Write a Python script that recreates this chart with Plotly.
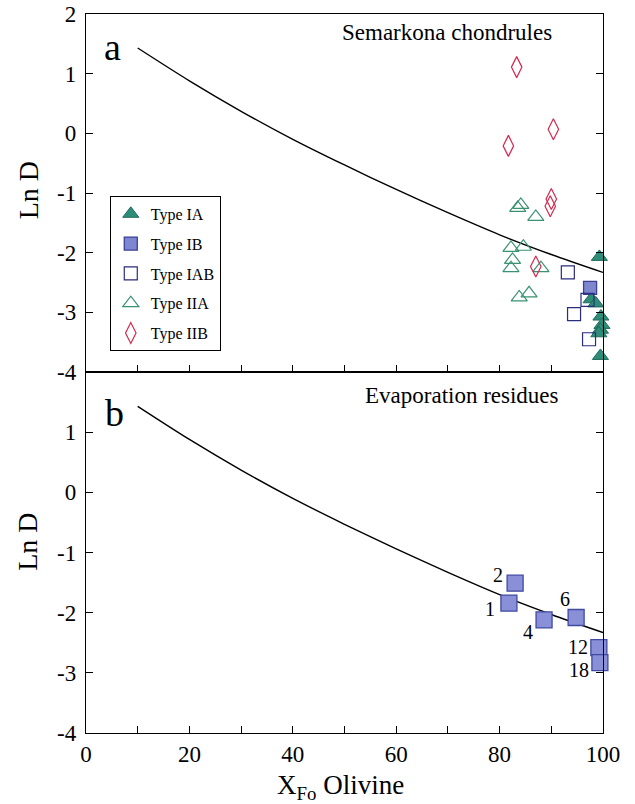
import plotly.graph_objects as go

# ---------------- data ----------------
curve_x = [10, 20, 30, 40, 50, 60, 70, 80, 90, 100]
curve_y = [1.43, 0.88, 0.37, -0.10, -0.53, -0.94, -1.33, -1.70, -2.03, -2.33]

ia_x = [99.3, 97.7, 98.6, 99.6, 99.8, 99.5, 99.2, 99.5]
ia_y = [-2.07, -2.78, -2.85, -3.07, -3.21, -3.29, -3.35, -3.73]

ib_x = [97.5]
ib_y = [-2.59]

iab_x = [93.2, 97.0, 94.4, 97.3]
iab_y = [-2.33, -2.79, -3.03, -3.45]

iia_x = [83.5, 84.1, 87.0, 82.2, 84.6, 82.5, 82.2, 88.0, 83.8, 85.7]
iia_y = [-1.25, -1.20, -1.40, -1.92, -1.90, -2.12, -2.26, -2.26, -2.75, -2.68]

iib_x = [83.3, 81.7, 90.4, 90.0, 89.8, 87.0]
iib_y = [1.11, -0.21, 0.07, -1.10, -1.22, -2.23]

evap_x = [81.8, 83.0, 88.6, 94.8, 99.2, 99.4]
evap_y = [-1.84, -1.51, -2.12, -2.08, -2.58, -2.83]
evap_labels = ["1", "2", "4", "6", "12", "18"]

x_tickvals = [0, 20, 40, 60, 80, 100]
x_ticktext = ["0", "20", "40", "60", "80", "100"]
x_minorvals = [10, 30, 50, 70, 90]
y_tickvals_top = [-4, -3, -2, -1, 0, 1, 2]
y_ticktext_top = ["-4", "-3", "-2", "-1", "0", "1", "2"]
y_tickvals_bottom = [-4, -3, -2, -1, 0, 1]
y_ticktext_bottom = ["-4", "-3", "-2", "-1", "0", "1"]

# ---------------- style ----------------
SERIF = "Liberation Serif, Times New Roman, serif"
C_IA = "#2f8c78"
C_IA_LINE = "#1e6b5c"
C_IB = "#7f86d0"
C_IB_LINE = "#3a3f96"
C_IAB = "#2b2d7c"
C_IIA = "#3a9272"
C_IIB = "#d42a50"

fig = go.Figure()

# curves
for xa, ya in [("x", "y"), ("x2", "y2")]:
    fig.add_trace(go.Scatter(x=curve_x, y=curve_y, mode="lines",
                             line=dict(color="black", width=1.4, shape="spline", smoothing=0.8),
                             showlegend=False, hoverinfo="skip", xaxis=xa, yaxis=ya))

# top panel markers
fig.add_trace(go.Scatter(x=ia_x, y=ia_y, mode="markers", name="Type IA", legendgroup="a",
                         marker=dict(symbol="triangle-up", size=14, color=C_IA,
                                     line=dict(color=C_IA_LINE, width=1)),
                         cliponaxis=False, xaxis="x2", yaxis="y2"))
fig.add_trace(go.Scatter(x=ib_x, y=ib_y, mode="markers", name="Type IB", legendgroup="b",
                         marker=dict(symbol="square", size=13, color=C_IB,
                                     line=dict(color=C_IB_LINE, width=1.3)),
                         cliponaxis=False, xaxis="x2", yaxis="y2"))
fig.add_trace(go.Scatter(x=iab_x, y=iab_y, mode="markers", name="Type IAB", legendgroup="c",
                         marker=dict(symbol="square-open", size=13, color=C_IAB,
                                     line=dict(color=C_IAB, width=1.2)),
                         cliponaxis=False, xaxis="x2", yaxis="y2"))
fig.add_trace(go.Scatter(x=iia_x, y=iia_y, mode="markers", name="Type IIA", legendgroup="d",
                         marker=dict(symbol="triangle-up-open", size=14, color=C_IIA,
                                     line=dict(color=C_IIA, width=1.2)),
                         cliponaxis=False, xaxis="x2", yaxis="y2"))
fig.add_trace(go.Scatter(x=iib_x, y=iib_y, mode="markers", name="Type IIB", legendgroup="e",
                         marker=dict(symbol="diamond-tall-open", size=15, color=C_IIB,
                                     line=dict(color=C_IIB, width=1.2)),
                         cliponaxis=False, xaxis="x2", yaxis="y2"))

# bottom panel markers
fig.add_trace(go.Scatter(x=evap_x, y=evap_y, mode="markers", showlegend=False,
                         marker=dict(symbol="square", size=16, color="#8a90d8",
                                     line=dict(color="#3f4aa0", width=1.3)),
                         cliponaxis=False, xaxis="x", yaxis="y"))

# point labels (offsets are style)
label_offsets = {"1": (-12, -6), "2": (-10, 8), "4": (-9, -12),
                 "6": (-4, 19), "12": (-9, 1), "18": (-9, -7)}
for xv, yv, t in zip(evap_x, evap_y, evap_labels):
    dx, dy = label_offsets[t]
    fig.add_annotation(x=xv, y=yv, xref="x", yref="y", text=t, showarrow=False,
                       xanchor="right", yanchor="middle", xshift=dx, yshift=dy,
                       font=dict(family=SERIF, size=20, color="black"))

axis_common = dict(showline=True, linecolor="black", linewidth=1.3, mirror=True,
                   ticks="inside", ticklen=7, tickwidth=1.3, tickcolor="black",
                   showgrid=False, zeroline=False, automargin=False,
                   tickfont=dict(family=SERIF, size=23, color="black"))
x_minor = dict(tickvals=x_minorvals, ticks="inside", ticklen=7, tickwidth=1.3,
               tickcolor="black", showgrid=False)
y_extra = {"mirror": "ticks", "ticklabelstandoff": 4}

SPLIT = 0.502
fig.update_layout(
    width=635, height=804,
    margin=dict(l=86, r=32, t=14, b=71, autoexpand=False),
    paper_bgcolor="white", plot_bgcolor="white",
    xaxis=dict(domain=[0, 1], anchor="y", range=[0, 100], tickvals=x_tickvals,
               ticktext=x_ticktext, minor=x_minor, **axis_common),
    yaxis=dict(domain=[0, SPLIT], anchor="x", range=[-4, 2], tickvals=y_tickvals_bottom,
               ticktext=y_ticktext_bottom, **{**axis_common, **y_extra}),
    xaxis2=dict(domain=[0, 1], anchor="y2", range=[0, 100], tickvals=x_tickvals,
                showticklabels=False, minor=x_minor, **axis_common),
    yaxis2=dict(domain=[SPLIT, 1], anchor="x2", range=[-4, 2], tickvals=y_tickvals_top,
                ticktext=y_ticktext_top, **{**axis_common, **y_extra}),
    showlegend=True,
    legend=dict(x=0.046, y=0.747, xanchor="left", yanchor="top",
                bordercolor="black", borderwidth=1, bgcolor="white",
                font=dict(family=SERIF, size=16, color="black"),
                tracegroupgap=6, itemwidth=30),
)

def note(x, y, xref, yref, text, size, angle=0):
    fig.add_annotation(x=x, y=y, xref=xref, yref=yref, text=text, showarrow=False,
                       xanchor="center", yanchor="middle", textangle=angle,
                       font=dict(family=SERIF, size=size, color="black"))

# panel letters and titles
note(0.052, 0.908, "x2 domain", "y2 domain", "a", 38)
note(0.056, 0.886, "x domain", "y domain", "b", 38)
note(0.698, 0.947, "x2 domain", "y2 domain", "Semarkona chondrules", 23)
note(0.727, 0.935, "x domain", "y domain", "Evaporation residues", 23)

# axis titles
note(-0.112, 0.508, "paper", "y2 domain", "Ln D", 28, -90)
note(-0.112, 0.53, "paper", "y domain", "Ln D", 28, -90)
note(0.493, -0.075, "paper", "paper", "X<sub>Fo</sub> Olivine", 27)

fig.write_html("out.html")
